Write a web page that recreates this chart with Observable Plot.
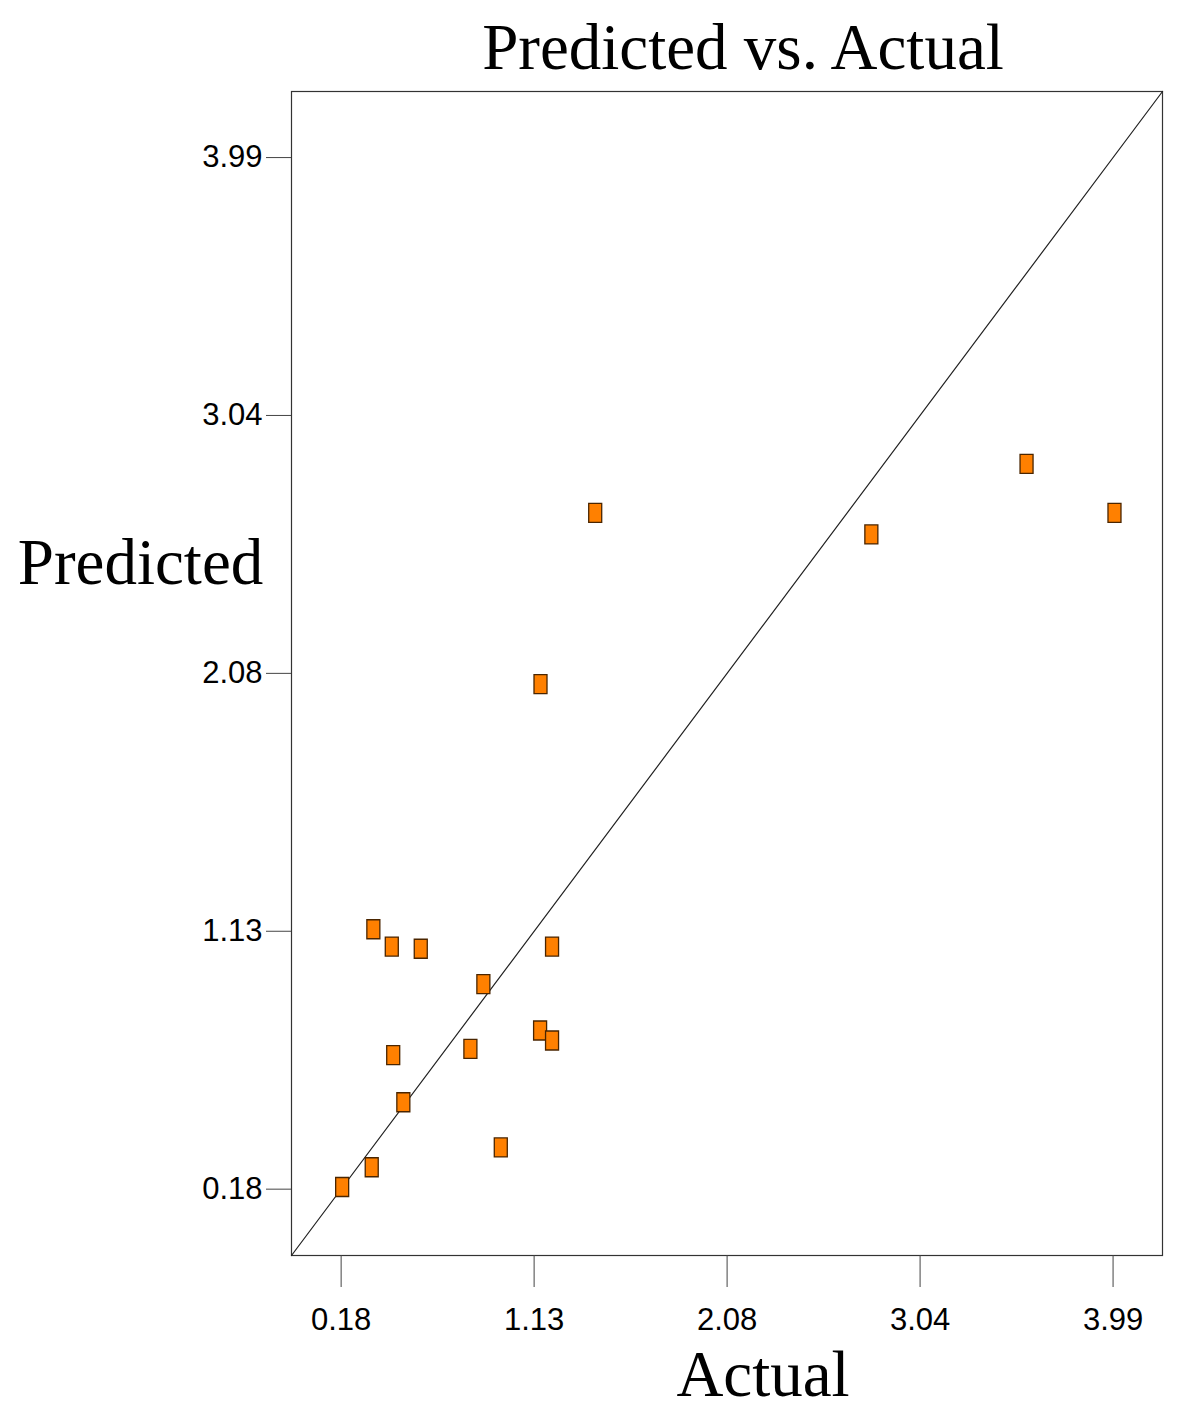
<!DOCTYPE html>
<html><head><meta charset="utf-8">
<script src="https://cdn.jsdelivr.net/npm/d3@7"></script>
<script src="https://cdn.jsdelivr.net/npm/@observablehq/plot@0.6"></script>
<style>body{margin:0;background:#fff}</style>
</head><body><div id="chart"></div>
<script>
const actual    = [0.185, 0.331, 0.968, 0.339, 0.430, 0.573, 0.882, 1.221, 1.162, 1.221, 0.437, 0.818, 0.487, 1.434, 2.797, 3.563, 3.997, 1.164];
const predicted = [0.188, 0.261, 0.334, 1.140, 1.076, 1.068, 0.937, 1.076, 0.766, 0.729, 0.675, 0.698, 0.501, 2.678, 2.598, 2.859, 2.678, 2.045];
const tickValues = [0.18, 1.1325, 2.085, 3.0375, 3.99];
const tickLabels = ["0.18", "1.13", "2.08", "3.04", "3.99"];
const axisDomain = [-0.065, 4.234];
const titleText = "Predicted vs. Actual";
const xLabel = "Actual";
const yLabel = "Predicted";

const points = actual.map((a, i) => ({actual: a, predicted: predicted[i]}));
const rectSymbol = {draw(ctx) { ctx.moveTo(-6.5, -9.5); ctx.lineTo(6.5, -9.5); ctx.lineTo(6.5, 9.5); ctx.lineTo(-6.5, 9.5); ctx.closePath(); }};
const fmt = d => tickLabels[tickValues.indexOf(d)];
const serif = "'Liberation Serif', 'Times New Roman', serif";

const chart = Plot.plot({
  width: 1200, height: 1428,
  marginLeft: 291, marginRight: 38, marginTop: 91, marginBottom: 173,
  x: {domain: axisDomain},
  y: {domain: axisDomain},
  style: {fontFamily: "'Liberation Sans', Arial, sans-serif", fontSize: "31px", background: "#fff", overflow: "visible", color: "#000"},
  marks: [
    Plot.frame({stroke: "#333", strokeWidth: 1.2}),
    Plot.axisX({ticks: tickValues, tickFormat: fmt, tickSize: 32, tickPadding: 20, label: null, stroke: "#444", fontSize: 31}),
    Plot.axisY({ticks: tickValues, tickFormat: fmt, tickSize: 25, tickPadding: 4, label: null, stroke: "#444", fontSize: 31}),
    Plot.line(axisDomain.map(v => ({v})), {x: "v", y: "v", stroke: "#222", strokeWidth: 1.2}),
    Plot.dot(points, {x: "actual", y: "predicted", symbol: rectSymbol, fill: "#FF8000", stroke: "#4a2500", strokeWidth: 1.3, r: 5}),
    Plot.text([titleText], {frameAnchor: "top", dx: 16, dy: -23, lineAnchor: "bottom", fontFamily: serif, fontSize: 65}),
    Plot.text([yLabel], {frameAnchor: "left", dx: -151, dy: -90, lineAnchor: "bottom", textAnchor: "middle", fontFamily: serif, fontSize: 65}),
    Plot.text([xLabel], {frameAnchor: "bottom", dx: 36, dy: 140, lineAnchor: "bottom", fontFamily: serif, fontSize: 65})
  ]
});
document.getElementById("chart").appendChild(chart);
</script>
</body></html>
